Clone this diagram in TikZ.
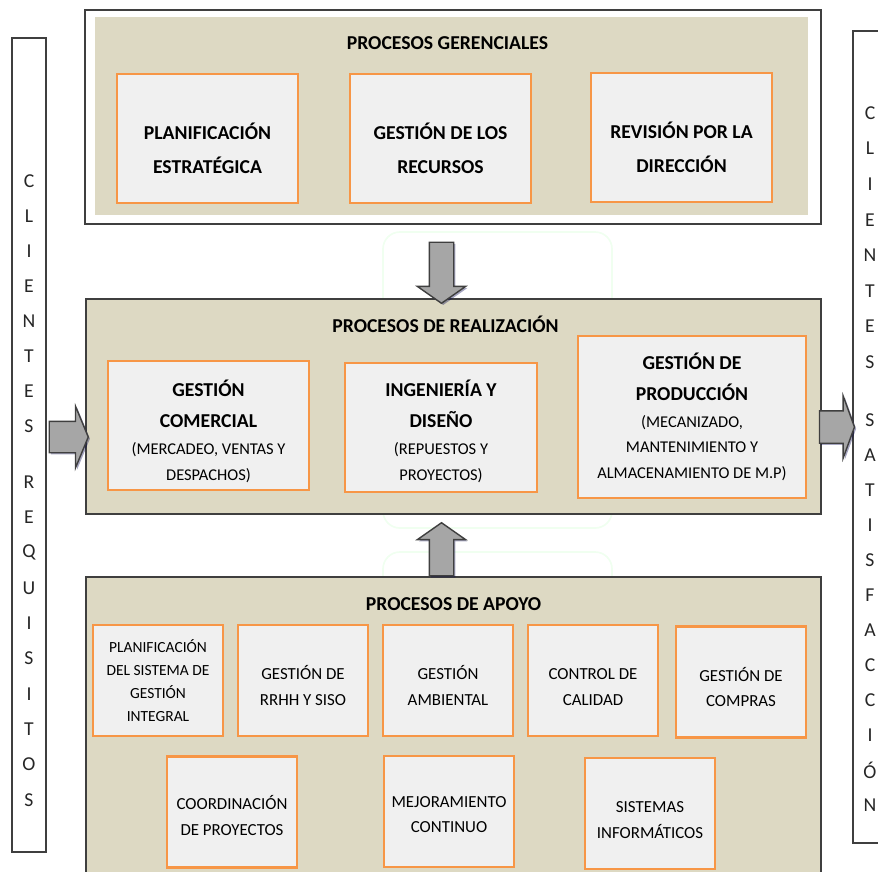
\documentclass[tikz,border=0pt]{standalone}
\usepackage{fontspec}
\setmainfont{Carlito}
\usepackage{tikz}
\usetikzlibrary{positioning, shapes.arrows, shadows}
\definecolor{colorBeige}{HTML}{DDD9C3}
\definecolor{colorBox}{HTML}{F0F0F0}
\definecolor{colorOrange}{HTML}{F79646}
\definecolor{colorFrame}{HTML}{3F3F3F}
\definecolor{colorArrow}{HTML}{A6A6A6}
\colorlet{colorLetter}{black!85}
\colorlet{colorMark}{green!6}
\newcommand{\detail}[1]{{\mdseries\fontsize{11.7}{18}\selectfont #1}}
\newcommand{\pushdown}[1]{\rule{0pt}{#1}}

\begin{document}
\begin{tikzpicture}[x=0.025cm, y=-0.025cm,
  frame/.style={draw=colorFrame, line width=1.3pt, inner sep=0pt},
  group/.style={frame, fill=colorBeige},
  title/.style={inner sep=0pt, text height=9pt, text depth=2pt, font=\bfseries\fontsize{14}{16}\selectfont},
  proc/.style={draw=colorOrange, line width=2pt, fill=colorBox, align=center, inner sep=2pt, font=\bfseries\fontsize{14}{22}\selectfont},
  mainproc/.style={proc, minimum width=4.525cm, minimum height=3.225cm, font=\bfseries\fontsize{14}{24}\selectfont},
  support/.style={proc, minimum width=3.25cm, minimum height=2.775cm, font=\fontsize{12}{18}\selectfont},
  side/.style={frame, line width=1pt, fill=white},
  letter/.style={inner sep=0pt, text=colorLetter, font=\fontsize{14}{16}\selectfont},
  blockarrow/.style={single arrow, draw=colorFrame, fill=colorArrow, line width=1pt,
    drop shadow={shadow xshift=1.2pt, shadow yshift=-1.2pt, fill=blue!30!black, opacity=.35}}]
\useasboundingbox (0,0) rectangle (878,871);

% faint background mark
\draw[colorMark, line width=1.2pt, rounded corners=12pt] (383,232) rectangle (612,528);
\draw[colorMark, line width=1.2pt, rounded corners=12pt] (383,552) rectangle (612,600);

% clients columns
\node[side, minimum width=0.85cm, minimum height=20.35cm] (input) at (29,445) {};
\node[side, minimum width=1.2cm, minimum height=20.3cm] (output) at (877,437) {};
\foreach \l [count=\i] in {C,L,I,E,N,T,E,S}
  \node[letter] (in\i) at (29,{181+35*(\i-1)}) {\l};
\foreach \l [count=\i] in {R,E,Q,U,I,S,I,T,O,S}
  \node[letter] (req\i) at (29,{482+35.3*(\i-1)}) {\l};
\foreach \l [count=\i] in {C,L,I,E,N,T,E,S}
  \node[letter] (out\i) at (870,{113+35.6*(\i-1)}) {\l};
\foreach \l [count=\i] in {S,A,T,I,S,F,A,C,C,I,Ó,N}
  \node[letter] (sat\i) at (870,{420+35*(\i-1)}) {\l};

% procesos gerenciales
\node[frame, fill=white, minimum width=18.4cm, minimum height=5.35cm] (gerencial) at (453,117) {};
\node[fill=colorBeige, inner sep=0pt, minimum width=17.825cm, minimum height=4.95cm] (gerencialfondo) at (451.5,116) {};
\node[title, below=0.49cm of gerencialfondo.north, xshift=-0.1cm] (tgerencial) {PROCESOS GERENCIALES};
\node[mainproc] (plan) at (207.5,138.5) {\pushdown{26pt}PLANIFICACIÓN\\ESTRATÉGICA};
\node[mainproc] (recursos) at (440.5,138.5) {\pushdown{26pt}GESTIÓN DE LOS\\RECURSOS};
\node[mainproc] (revision) at (681.5,137.5) {\pushdown{26pt}REVISIÓN POR LA\\DIRECCIÓN};

% procesos de realizacion
\node[group, minimum width=18.375cm, minimum height=5.375cm] (realizacion) at (453.5,406.5) {};
\node[title, below=0.53cm of realizacion.north, xshift=-0.2cm] (trealizacion) {PROCESOS DE REALIZACIÓN};
\node[proc, minimum width=5.025cm, minimum height=3.225cm] (comercial) at (208.5,425.5)
  {\pushdown{20pt}GESTIÓN\\COMERCIAL\\[-3pt]\detail{(MERCADEO, VENTAS Y}\\[-3.6pt]\detail{DESPACHOS)}};
\node[proc, minimum width=4.8cm, minimum height=3.225cm] (ingenieria) at (441,427.5)
  {\pushdown{17pt}INGENIERÍA Y\\DISEÑO\\[-3pt]\detail{(REPUESTOS Y}\\[-3.6pt]\detail{PROYECTOS)}};
\node[proc, minimum width=5.7cm, minimum height=4.05cm] (produccion) at (692,417)
  {GESTIÓN DE\\PRODUCCIÓN\\[-3pt]\detail{(MECANIZADO,}\\[-3.6pt]\detail{MANTENIMIENTO Y}\\[-3.6pt]\detail{ALMACENAMIENTO DE M.P)}};

% procesos de apoyo
\node[group, minimum width=18.375cm, minimum height=8cm, anchor=north] (apoyo) at (453.5,576) {};
\node[title, below=0.54cm of apoyo.north] (tapoyo) {PROCESOS DE APOYO};
\node[support, font=\fontsize{11}{16.3}\selectfont] (sgi) at (158,680.5) {PLANIFICACIÓN\\DEL SISTEMA DE\\GESTIÓN\\INTEGRAL};
\node[support] (rrhh) at (303,680.5) {\pushdown{17pt}GESTIÓN DE\\RRHH Y SISO};
\node[support] (ambiental) at (448,680.5) {\pushdown{17pt}GESTIÓN\\AMBIENTAL};
\node[support] (calidad) at (593,680.5) {\pushdown{17pt}CONTROL DE\\CALIDAD};
\node[support] (compras) at (741,682) {\pushdown{17pt}GESTIÓN DE\\COMPRAS};
\node[support] (coordinacion) at (232,812) {\pushdown{15pt}COORDINACIÓN\\DE PROYECTOS};
\node[support] (mejora) at (449,811.5) {\pushdown{12pt}MEJORAMIENTO\\CONTINUO};
\node[support] (sistemas) at (650,813.5) {\pushdown{17pt}SISTEMAS\\INFORMÁTICOS};

% flechas
\node[blockarrow, shape border rotate=270, inner sep=0.2875cm, minimum height=1.525cm, minimum width=1.175cm,
  single arrow head extend=0.3cm, single arrow tip angle=110] (down) at (441.5,268.5) {};
\node[blockarrow, shape border rotate=90, inner sep=0.2875cm, minimum height=1.325cm, minimum width=1.175cm,
  single arrow head extend=0.3cm, single arrow tip angle=110] (up) at (441.5,553.5) {};
\node[blockarrow, inner xsep=0pt, inner ysep=0.375cm, minimum height=0.975cm, minimum width=1.5cm,
  single arrow head extend=0.375cm, single arrow tip angle=135] (enter) at (65.5,437) {};
\node[blockarrow, inner xsep=0pt, inner ysep=0.3875cm, minimum height=0.875cm, minimum width=1.525cm,
  single arrow head extend=0.375cm, single arrow tip angle=140] (leave) at (834,427) {};
\end{tikzpicture}
\end{document}
